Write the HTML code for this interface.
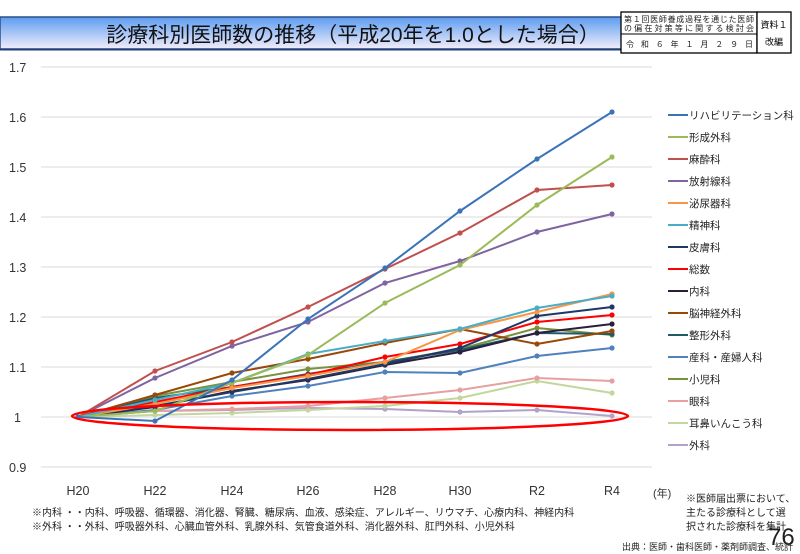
<!DOCTYPE html>
<html><head><meta charset="utf-8"><style>
body{margin:0;background:#fff;width:800px;height:554px;overflow:hidden;font-family:"Liberation Sans","Noto Sans CJK JP",sans-serif;}
</style></head><body>
<svg width="800" height="554" xmlns="http://www.w3.org/2000/svg" style="position:absolute;left:0;top:0;font-family:'Liberation Sans','Noto Sans CJK JP',sans-serif">
<defs><linearGradient id="g" x1="0" y1="0" x2="0" y2="1"><stop offset="0" stop-color="#5c9cf0"/><stop offset="1" stop-color="#f2eefb"/></linearGradient>
<marker id="m1" markerWidth="6" markerHeight="6" refX="3" refY="3" markerUnits="userSpaceOnUse"><circle cx="3" cy="3" r="2.6" fill="#b3a2c7"/></marker>
<marker id="m2" markerWidth="6" markerHeight="6" refX="3" refY="3" markerUnits="userSpaceOnUse"><circle cx="3" cy="3" r="2.6" fill="#c3d69b"/></marker>
<marker id="m3" markerWidth="6" markerHeight="6" refX="3" refY="3" markerUnits="userSpaceOnUse"><circle cx="3" cy="3" r="2.6" fill="#e6a0a0"/></marker>
<marker id="m4" markerWidth="6" markerHeight="6" refX="3" refY="3" markerUnits="userSpaceOnUse"><circle cx="3" cy="3" r="2.6" fill="#77933c"/></marker>
<marker id="m5" markerWidth="6" markerHeight="6" refX="3" refY="3" markerUnits="userSpaceOnUse"><circle cx="3" cy="3" r="2.6" fill="#4f81bd"/></marker>
<marker id="m6" markerWidth="6" markerHeight="6" refX="3" refY="3" markerUnits="userSpaceOnUse"><circle cx="3" cy="3" r="2.6" fill="#215968"/></marker>
<marker id="m7" markerWidth="6" markerHeight="6" refX="3" refY="3" markerUnits="userSpaceOnUse"><circle cx="3" cy="3" r="2.6" fill="#984807"/></marker>
<marker id="m8" markerWidth="6" markerHeight="6" refX="3" refY="3" markerUnits="userSpaceOnUse"><circle cx="3" cy="3" r="2.6" fill="#2a1f3e"/></marker>
<marker id="m9" markerWidth="6" markerHeight="6" refX="3" refY="3" markerUnits="userSpaceOnUse"><circle cx="3" cy="3" r="2.6" fill="#ff0000"/></marker>
<marker id="m10" markerWidth="6" markerHeight="6" refX="3" refY="3" markerUnits="userSpaceOnUse"><circle cx="3" cy="3" r="2.6" fill="#1f3864"/></marker>
<marker id="m11" markerWidth="6" markerHeight="6" refX="3" refY="3" markerUnits="userSpaceOnUse"><circle cx="3" cy="3" r="2.6" fill="#f79646"/></marker>
<marker id="m12" markerWidth="6" markerHeight="6" refX="3" refY="3" markerUnits="userSpaceOnUse"><circle cx="3" cy="3" r="2.6" fill="#4bacc6"/></marker>
<marker id="m13" markerWidth="6" markerHeight="6" refX="3" refY="3" markerUnits="userSpaceOnUse"><circle cx="3" cy="3" r="2.6" fill="#8064a2"/></marker>
<marker id="m14" markerWidth="6" markerHeight="6" refX="3" refY="3" markerUnits="userSpaceOnUse"><circle cx="3" cy="3" r="2.6" fill="#c0504d"/></marker>
<marker id="m15" markerWidth="6" markerHeight="6" refX="3" refY="3" markerUnits="userSpaceOnUse"><circle cx="3" cy="3" r="2.6" fill="#9bbb59"/></marker>
<marker id="m16" markerWidth="6" markerHeight="6" refX="3" refY="3" markerUnits="userSpaceOnUse"><circle cx="3" cy="3" r="2.6" fill="#3b73b9"/></marker>
</defs>
<rect x="0" y="17" width="622" height="32" fill="url(#g)" stroke="#2f4f88" stroke-width="1.5"/>
<line x1="0" y1="49.5" x2="622" y2="49.5" stroke="#1f3f78" stroke-width="2"/>
<text x="353" y="42" font-size="21" text-anchor="middle" fill="#111">診療科別医師数の推移（平成20年を1.0とした場合）</text>
<rect x="621" y="12" width="136" height="41" fill="#fff" stroke="#000" stroke-width="1.3"/>
<rect x="757" y="12" width="34" height="41" fill="#fff" stroke="#000" stroke-width="1.3"/>
<line x1="621" y1="34" x2="757" y2="34" stroke="#000"/>
<text x="624" y="22" font-size="8" fill="#222" textLength="130">第１回医師養成過程を通じた医師</text>
<text x="624" y="31" font-size="8" fill="#222" textLength="130">の偏在対策等に関する検討会</text>
<text x="626" y="47" font-size="8" fill="#222" textLength="127">令　和　６　年　１　月　２　９　日</text>
<text x="774" y="28" font-size="9" text-anchor="middle">資料１</text>
<text x="774" y="45" font-size="9" text-anchor="middle">改編</text>
<g stroke="#e2e2e2" stroke-width="1.2">
<line x1="41" y1="67" x2="652" y2="67"/><line x1="41" y1="117" x2="652" y2="117"/><line x1="41" y1="167" x2="652" y2="167"/><line x1="41" y1="217" x2="652" y2="217"/><line x1="41" y1="267" x2="652" y2="267"/><line x1="41" y1="317" x2="652" y2="317"/><line x1="41" y1="367" x2="652" y2="367"/><line x1="41" y1="417" x2="652" y2="417"/><line x1="41" y1="467" x2="652" y2="467"/>
</g>
<g font-size="12.5" fill="#333">
<text x="9" y="72">1.7</text><text x="9" y="122">1.6</text><text x="9" y="172">1.5</text><text x="9" y="222">1.4</text><text x="9" y="272">1.3</text><text x="9" y="322">1.2</text><text x="9" y="372">1.1</text><text x="14" y="422">1</text><text x="9" y="472">0.9</text>
</g>
<g font-size="12.5" fill="#333" text-anchor="middle">
<text x="78" y="495">H20</text><text x="155" y="495">H22</text><text x="232" y="495">H24</text><text x="308" y="495">H26</text><text x="385" y="495">H28</text><text x="460" y="495">H30</text><text x="537" y="495">R2</text><text x="612" y="495">R4</text>
</g>
<text x="653" y="497" font-size="11" fill="#333">(年)</text>
<g fill="none" stroke-width="2">
<polyline stroke="#b3a2c7" marker-start="url(#m1)" marker-mid="url(#m1)" marker-end="url(#m1)" points="78,417 155,411 232,410 308,408 385,409 460,412 537,410 612,416"/>
<polyline stroke="#c3d69b" marker-start="url(#m2)" marker-mid="url(#m2)" marker-end="url(#m2)" points="78,417 155,415 232,413 308,410 385,406 460,398 537,381 612,393"/>
<polyline stroke="#e6a0a0" marker-start="url(#m3)" marker-mid="url(#m3)" marker-end="url(#m3)" points="78,417 155,411 232,409 308,406 385,398 460,390 537,378 612,381"/>
<polyline stroke="#77933c" marker-start="url(#m4)" marker-mid="url(#m4)" marker-end="url(#m4)" points="78,417 155,396 232,382 308,369 385,362 460,349 537,328 612,335"/>
<polyline stroke="#4f81bd" marker-start="url(#m5)" marker-mid="url(#m5)" marker-end="url(#m5)" points="78,417 155,410 232,396 308,386 385,372 460,373 537,356 612,348"/>
<polyline stroke="#215968" marker-start="url(#m6)" marker-mid="url(#m6)" marker-end="url(#m6)" points="78,417 155,398 232,387 308,374 385,362 460,350 537,333 612,334"/>
<polyline stroke="#984807" marker-start="url(#m7)" marker-mid="url(#m7)" marker-end="url(#m7)" points="78,417 155,395 232,373 308,359 385,343 460,329 537,344 612,331"/>
<polyline stroke="#2a1f3e" marker-start="url(#m8)" marker-mid="url(#m8)" marker-end="url(#m8)" points="78,417 155,407 232,391 308,380 385,365 460,352 537,333 612,324"/>
<polyline stroke="#ff0000" marker-start="url(#m9)" marker-mid="url(#m9)" marker-end="url(#m9)" points="78,417 155,402 232,387 308,375 385,357 460,344 537,322 612,315"/>
<polyline stroke="#1f3864" marker-start="url(#m10)" marker-mid="url(#m10)" marker-end="url(#m10)" points="78,417 155,406 232,392 308,379 385,364 460,348 537,316 612,307"/>
<polyline stroke="#f79646" marker-start="url(#m11)" marker-mid="url(#m11)" marker-end="url(#m11)" points="78,417 155,404 232,388 308,376 385,362 460,330 537,312 612,294"/>
<polyline stroke="#4bacc6" marker-start="url(#m12)" marker-mid="url(#m12)" marker-end="url(#m12)" points="78,417 155,400 232,383 308,354 385,341 460,329 537,308 612,296"/>
<polyline stroke="#8064a2" marker-start="url(#m13)" marker-mid="url(#m13)" marker-end="url(#m13)" points="78,417 155,378 232,346 308,322 385,283 460,261 537,232 612,214"/>
<polyline stroke="#c0504d" marker-start="url(#m14)" marker-mid="url(#m14)" marker-end="url(#m14)" points="78,417 155,371 232,342 308,307 385,269 460,233 537,190 612,185"/>
<polyline stroke="#9bbb59" marker-start="url(#m15)" marker-mid="url(#m15)" marker-end="url(#m15)" points="78,417 155,411 232,383 308,355 385,303 460,265 537,205 612,157"/>
<polyline stroke="#3b73b9" marker-start="url(#m16)" marker-mid="url(#m16)" marker-end="url(#m16)" points="78,417 155,421 232,380 308,319 385,268 460,211 537,159 612,112"/>
</g>
<ellipse cx="350" cy="416" rx="278" ry="14" fill="none" stroke="#ff0000" stroke-width="2.5"/>
<g font-size="10.5" fill="#222">
<g stroke-width="2">
<line x1="668" y1="115" x2="688" y2="115" stroke="#3b73b9"/><line x1="668" y1="137" x2="688" y2="137" stroke="#9bbb59"/><line x1="668" y1="159" x2="688" y2="159" stroke="#c0504d"/><line x1="668" y1="181" x2="688" y2="181" stroke="#8064a2"/><line x1="668" y1="203" x2="688" y2="203" stroke="#f79646"/><line x1="668" y1="225" x2="688" y2="225" stroke="#4bacc6"/><line x1="668" y1="247" x2="688" y2="247" stroke="#1f3864"/><line x1="668" y1="269" x2="688" y2="269" stroke="#ff0000"/><line x1="668" y1="291" x2="688" y2="291" stroke="#2a1f3e"/><line x1="668" y1="313" x2="688" y2="313" stroke="#984807"/><line x1="668" y1="335" x2="688" y2="335" stroke="#215968"/><line x1="668" y1="357" x2="688" y2="357" stroke="#4f81bd"/><line x1="668" y1="379" x2="688" y2="379" stroke="#77933c"/><line x1="668" y1="401" x2="688" y2="401" stroke="#e6a0a0"/><line x1="668" y1="423" x2="688" y2="423" stroke="#c3d69b"/><line x1="668" y1="445" x2="688" y2="445" stroke="#b3a2c7"/>
</g>
<text x="689" y="119">リハビリテーション科</text><text x="689" y="141">形成外科</text><text x="689" y="163">麻酔科</text><text x="689" y="185">放射線科</text><text x="689" y="207">泌尿器科</text><text x="689" y="229">精神科</text><text x="689" y="251">皮膚科</text><text x="689" y="273">総数</text><text x="689" y="295">内科</text><text x="689" y="317">脳神経外科</text><text x="689" y="339">整形外科</text><text x="689" y="361">産科・産婦人科</text><text x="689" y="383">小児科</text><text x="689" y="405">眼科</text><text x="689" y="427">耳鼻いんこう科</text><text x="689" y="449">外科</text>
</g>
<g font-size="10" fill="#222">
<text x="32" y="516">※内科 ・・内科、呼吸器、循環器、消化器、腎臓、糖尿病、血液、感染症、アレルギー、リウマチ、心療内科、神経内科</text>
<text x="32" y="530">※外科 ・・外科、呼吸器外科、心臓血管外科、乳腺外科、気管食道外科、消化器外科、肛門外科、小児外科</text>
<text x="686" y="502">※医師届出票において、</text>
<text x="686" y="516">主たる診療科として選</text>
<text x="686" y="530">択された診療科を集計</text>
<text x="622" y="550" font-size="9">出典：医師・歯科医師・薬剤師調査、統計</text>
</g>
<text x="768" y="545" font-size="24" fill="#222">76</text>
</svg>
</body></html>
